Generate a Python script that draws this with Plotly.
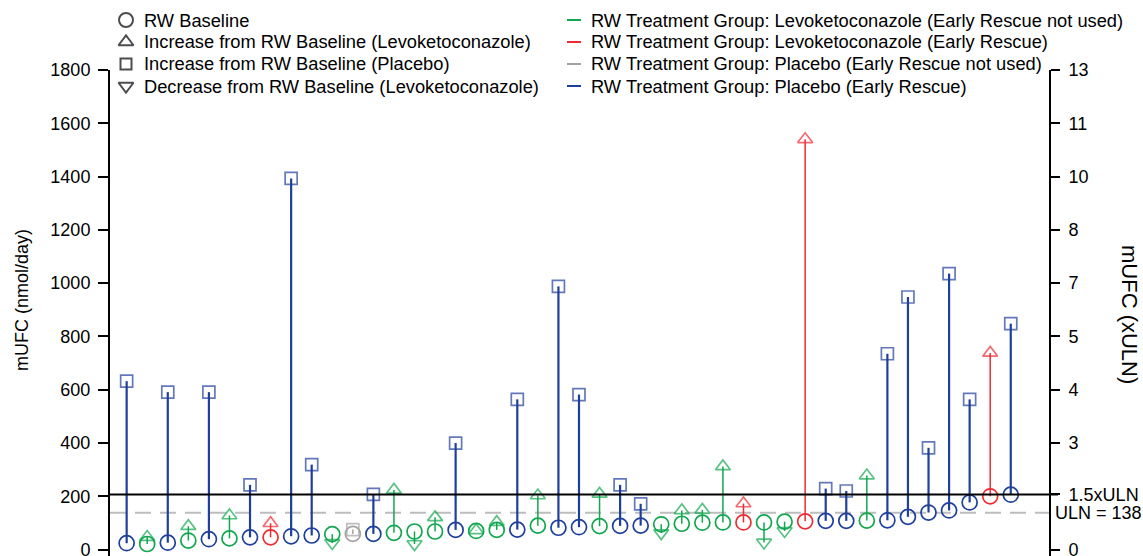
import plotly.graph_objects as go

# ---------------- data ----------------
patient = list(range(1, 45))
baseline = [24, 21, 26, 34, 39, 42, 46, 46, 50, 53, 58, 59, 59, 63, 68, 68, 74, 70, 74, 75,
            90, 82, 84, 88, 89, 90, 95, 97, 101, 102, 102, 102, 105, 106, 108, 108, 109, 110,
            123, 139, 147, 177, 200, 206]
post = [632, 47, 591, 88, 591, 128, 243, 99, 1393, 319, 25, 75, 207, 224, 21, 121, 400, 72, 103, 564,
        203, 988, 582, 209, 243, 172, 62, 147, 149, 312, 173, 27, 70, 1540, 229, 220, 278, 735,
        948, 382, 1036, 564, 738, 848]
arm = ["P", "L", "P", "L", "P", "L", "P", "L", "P", "P", "L", "P", "P", "L", "L", "L", "P", "L", "L", "P",
       "L", "P", "P", "L", "P", "P", "L", "L", "L", "L", "L", "L", "L", "L", "P", "P", "L", "P",
       "P", "P", "P", "P", "L", "P"]
early_rescue = [True, False, True, False, True, False, True, True, True, True, False, False, True, False,
                False, False, True, False, False, True, False, True, True, False, True, True, False,
                False, False, False, True, False, False, True, True, True, False, True, True, True,
                True, True, True, True]
ULN = 138
left_ticks = [0, 200, 400, 600, 800, 1000, 1200, 1400, 1600, 1800]
right_tickvals = [0, 1.5 * ULN, 400, 600, 800, 1000, 1200, 1400, 1600, 1800]
right_ticktext = ["0", "1.5xULN", "3", "4", "5", "7", "8", "10", "11", "13"]

symbol_labels = ["RW Baseline", "Increase from RW Baseline (Levoketoconazole)",
                 "Increase from RW Baseline (Placebo)", "Decrease from RW Baseline (Levoketoconazole)"]
group_labels = ["RW Treatment Group: Levoketoconazole (Early Rescue not used)",
                "RW Treatment Group: Levoketoconazole (Early Rescue)",
                "RW Treatment Group: Placebo (Early Rescue not used)",
                "RW Treatment Group: Placebo (Early Rescue)"]

# ---------------- styles ----------------
FONT = "Liberation Sans, Arial, sans-serif"
GREEN = "#12a650"
RED = "#ee2b33"
GRAY = "#a3a3a3"
BLUE = "#1f3f9c"
groups = [("L", False, GREEN, 1.5), ("L", True, RED, 1.5), ("P", False, GRAY, 1.5), ("P", True, BLUE, 2.2)]

W, H = 1143, 556
ML, MR = 110, 94
PW = W - ML - MR


def px(xp):
    return (xp - ML) / PW


def py(yp):
    return 1 - yp / H


fig = go.Figure()

for g_arm, g_res, color, lw in groups:
    idx = [i for i in range(len(patient)) if arm[i] == g_arm and early_rescue[i] == g_res]
    sx, sy = [], []
    for i in idx:
        sx += [patient[i], patient[i], None]
        sy += [baseline[i], post[i], None]
    fig.add_trace(go.Scatter(x=sx, y=sy, mode="lines", line=dict(color=color, width=lw),
                             showlegend=False, hoverinfo="skip"))
    fig.add_trace(go.Scatter(x=[patient[i] for i in idx], y=[baseline[i] for i in idx], mode="markers",
                             marker=dict(symbol="circle-open", size=15, color=color, line=dict(width=1.7)),
                             showlegend=False, hoverinfo="skip"))
    syms, sizes = [], []
    for i in idx:
        if arm[i] == "P":
            syms.append("square-open"); sizes.append(12)
        elif post[i] >= baseline[i]:
            syms.append("triangle-up-open"); sizes.append(13)
        else:
            syms.append("triangle-down-open"); sizes.append(13)
    fig.add_trace(go.Scatter(x=[patient[i] for i in idx], y=[post[i] for i in idx], mode="markers",
                             marker=dict(symbol=syms, size=sizes, color=color, line=dict(width=1.7)),
                             showlegend=False, hoverinfo="skip"))

# dummy trace to activate right axis
fig.add_trace(go.Scatter(x=[None], y=[None], yaxis="y2", showlegend=False, hoverinfo="skip"))

# ---------------- legend (overlay pixel axes) ----------------
rows_y = [20, 42, 64, 86]
fig.add_trace(go.Scatter(x=[126] * 4, y=rows_y, mode="markers", xaxis="x3", yaxis="y3",
                         marker=dict(symbol=["circle-open", "triangle-up-open", "square-open", "triangle-down-open"],
                                     size=[14, 13, 11, 13], color="black", line=dict(width=2)),
                         cliponaxis=False, showlegend=False, hoverinfo="skip"))
for (g_arm, g_res, color, lw), yy in zip(groups, rows_y):
    fig.add_trace(go.Scatter(x=[567, 581], y=[yy, yy], mode="lines", xaxis="x3", yaxis="y3",
                             line=dict(color=color, width=2), cliponaxis=False,
                             showlegend=False, hoverinfo="skip"))

LEG = 18.3
annotations = []
for lab, yy in zip(symbol_labels, rows_y):
    annotations.append(dict(text=lab, x=px(142), y=py(yy), xref="paper", yref="paper", xanchor="left",
                            yanchor="middle", showarrow=False, font=dict(size=LEG, color="black", family=FONT)))
for lab, yy in zip(group_labels, rows_y):
    annotations.append(dict(text=lab, x=px(589), y=py(yy), xref="paper", yref="paper", xanchor="left",
                            yanchor="middle", showarrow=False, font=dict(size=LEG, color="black", family=FONT)))
annotations.append(dict(text="mUFC (nmol/day)", x=px(22), y=py(300), xref="paper", yref="paper",
                        xanchor="center", yanchor="middle",
                        textangle=-90, showarrow=False, font=dict(size=18, color="black", family=FONT)))
annotations.append(dict(text="mUFC (xULN)", x=px(1130), y=py(314), xref="paper", yref="paper",
                        xanchor="center", yanchor="middle",
                        textangle=90, showarrow=False, font=dict(size=22, color="black", family=FONT)))
annotations.append(dict(text="ULN = 138", x=px(1053), y=ULN, xref="paper", yref="y", xanchor="left",
                        yanchor="middle", showarrow=False, font=dict(size=18, color="black", family=FONT)))

shapes = [
    dict(type="line", xref="paper", yref="y", x0=0, x1=px(1058), y0=1.5 * ULN, y1=1.5 * ULN,
         line=dict(color="black", width=2)),
    dict(type="line", xref="paper", yref="y", x0=0, x1=px(1052), y0=ULN, y1=ULN,
         line=dict(color="#bdbdbd", width=2, dash="16px,9px"), layer="below"),
]

ydom = [0, (H - 70) / H]
fig.update_layout(
    width=W, height=H,
    margin=dict(l=ML, r=MR, t=0, b=0, pad=0, autoexpand=False),
    paper_bgcolor="white", plot_bgcolor="rgba(0,0,0,0)",
    font=dict(family=FONT, size=18, color="black"),
    showlegend=False,
    xaxis=dict(domain=[0, 1], range=[0.19, 45.86], visible=False, showgrid=False, zeroline=False,
               automargin=False),
    yaxis=dict(domain=ydom, range=[-24, 1800], tickvals=left_ticks, ticks="outside", ticklen=10, tickwidth=2,
               tickcolor="black", showline=True, linewidth=2, linecolor="black", showgrid=False,
               zeroline=False, tickfont=dict(size=18, family=FONT, color="black"), ticklabelstandoff=4,
               ticklabeloverflow="allow", automargin=False),
    yaxis2=dict(overlaying="y", side="right", range=[-24, 1800], tickvals=right_tickvals,
                ticktext=right_ticktext, ticks="outside", ticklen=9, tickwidth=2, tickcolor="black",
                showline=True, linewidth=2, linecolor="black", showgrid=False, zeroline=False,
                tickfont=dict(size=18, family=FONT, color="black"), ticklabelstandoff=5,
                ticklabeloverflow="allow", automargin=False),
    xaxis3=dict(domain=[0, 1], range=[ML, W - MR], anchor="y3", visible=False, automargin=False),
    yaxis3=dict(domain=[0, 1], range=[H, 0], anchor="x3", visible=False, automargin=False),
    annotations=annotations,
    shapes=shapes,
)

fig.write_html("out.html", config={"displayModeBar": False, "staticPlot": True},
               post_script="document.body.style.margin='0px';document.body.style.overflow='hidden';")
